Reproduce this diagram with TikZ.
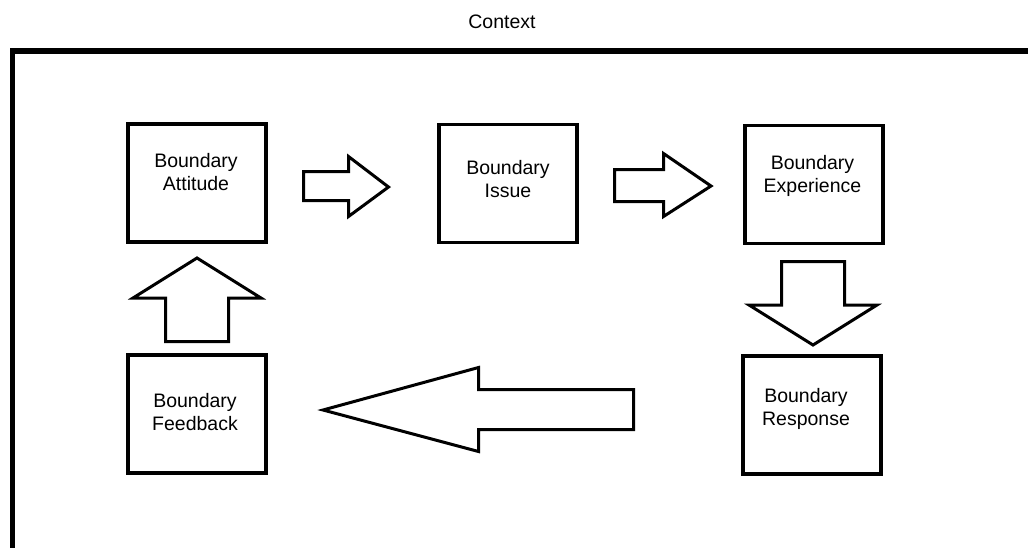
\documentclass[tikz,border=0pt]{standalone}
\usepackage{fontspec}
\setmainfont{Liberation Sans}

\begin{document}
\begin{tikzpicture}[x=1pt,y=-1pt]
\tikzset{
	box/.style={draw,
		line width=3.5pt,
		minimum width=138pt,
		minimum height=118pt,
		inner sep=0pt},
	boxtext/.style={align=center,
		font=\fontsize{19.5}{23}\selectfont},
	blockarrow/.style={draw,
		line width=3pt,
		line join=miter,
		fill=white}
}

\useasboundingbox (0,0) rectangle (1028,547);
\draw[line width=5.5pt] (1040,51) -- (12.5,51) -- (12.5,560);
\node[boxtext] (Context) at (502,22) {Context};

% the five boxes
\node[box] (Attitude) at (197,183) {};
\node[box] (Issue) at (508,183.5) {};
\node[box] (Experience) at (814,184.5) {};
\node[box] (Response) at (812,415) {};
\node[box] (Feedback) at (197,414) {};

\node[boxtext] (AttitudeLBL) at ([xshift=-1,yshift=10.5]Attitude) {Boundary\\Attitude};
\node[boxtext] (IssueLBL) at ([yshift=4]Issue) {Boundary\\Issue};
\node[boxtext] (ExperienceLBL) at ([xshift=-1.5,yshift=8.5]Experience) {Boundary\\Experience};
\node[boxtext] (ResponseLBL) at ([xshift=-6,yshift=6.5]Response) {Boundary\\Response};
\node[boxtext] (FeedbackLBL) at ([xshift=-2,yshift=1.5]Feedback) {Boundary\\Feedback};

% block arrows
\draw[blockarrow] (303.5,171.5) -- (348.5,171.5) -- (348.5,156.5) -- (388.5,187) -- (348.5,216.5) -- (348.5,200.5) -- (303.5,200.5) -- cycle;
\draw[blockarrow] (614.5,169.5) -- (663.5,169.5) -- (663.5,153.5) -- (711,186) -- (663.5,216.5) -- (663.5,201.5) -- (614.5,201.5) -- cycle;
\draw[blockarrow] (781.5,261.5) -- (844.5,261.5) -- (844.5,305) -- (877,305) -- (813,345) -- (749,305) -- (781.5,305) -- cycle;
\draw[blockarrow] (633.5,389.5) -- (478.5,389.5) -- (478.5,367.5) -- (323,410) -- (478.5,451.5) -- (478.5,429.5) -- (633.5,429.5) -- cycle;
\draw[blockarrow] (165.5,341.5) -- (165.5,298) -- (133,298) -- (197,258) -- (261,298) -- (228.5,298) -- (228.5,341.5) -- cycle;
\end{tikzpicture}
\end{document}
